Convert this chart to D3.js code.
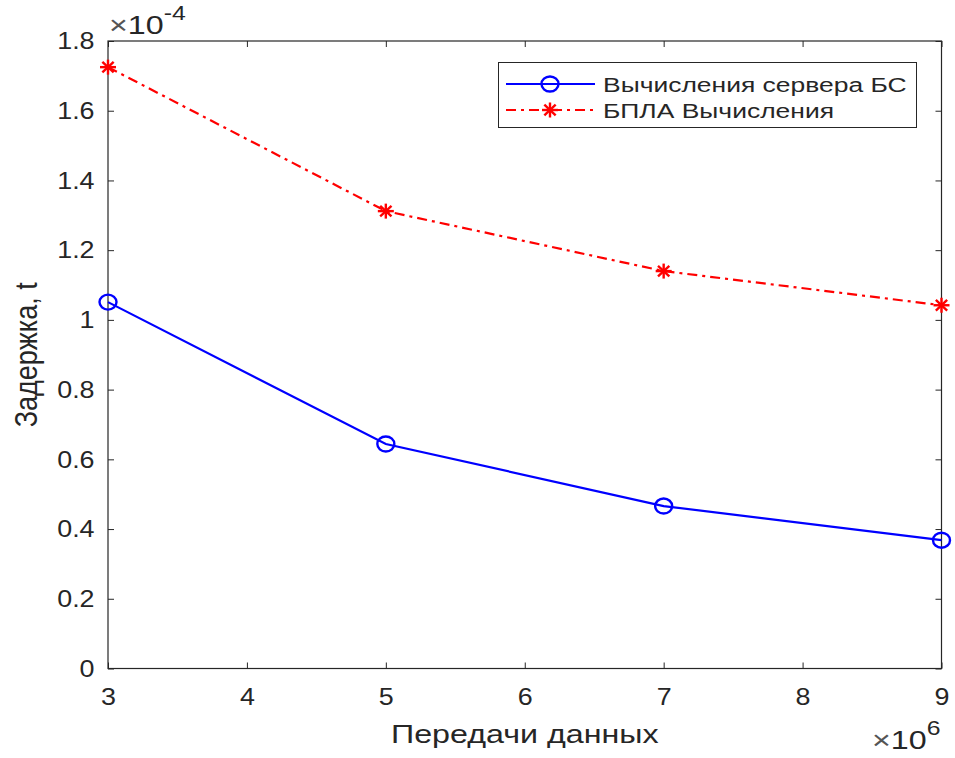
<!DOCTYPE html>
<html>
<head>
<meta charset="utf-8">
<script src="https://cdn.jsdelivr.net/npm/d3@7"></script>
<style>
body { margin: 0; background: #fff; }
text { font-family: "Liberation Sans", Arial, sans-serif; fill: #262626; }
</style>
</head>
<body>
<svg id="chart"></svg>
<script>
const width = 955;
const height = 758;
const margin = {left: 108, right: 13, top: 41, bottom: 90};

// data, x in units of 1e6, y in units of 1e-4
const xVals = [3, 5, 7, 9];
const serverDelay = [1.051, 0.644, 0.466, 0.368];
const uavDelay = [1.725, 1.312, 1.140, 1.042];
const xTicks = [3, 4, 5, 6, 7, 8, 9];
const yTicks = [0, 0.2, 0.4, 0.6, 0.8, 1, 1.2, 1.4, 1.6, 1.8];
const seriesNames = ['Вычисления сервера БС', 'БПЛА Вычисления'];

// the reference picture is a bit wider than tall, so text gets stretched sideways
const stretch = 1.24;

const svg = d3.select('#chart').attr('width', width).attr('height', height);

const x = d3.scaleLinear().domain([3, 9]).range([margin.left, width - margin.right - 0.5]);
const y = d3.scaleLinear().domain([0, 1.8]).range([height - margin.bottom + 0.5, margin.top]);

const axisColor = '#262626';
const fmt = d => d === 0 ? '0' : (Number.isInteger(d) ? d : d.toFixed(1));

// box
svg.append('rect')
    .attr('x', x(3)).attr('y', y(1.8))
    .attr('width', x(9) - x(3)).attr('height', y(0) - y(1.8))
    .attr('fill', 'none').attr('stroke', axisColor).attr('stroke-width', 1.2);

// axes with inward ticks
const xAxis = svg.append('g')
    .attr('transform', `translate(0,${y(0)})`)
    .call(d3.axisBottom(x).tickValues(xTicks).tickSize(-6).tickPadding(19).tickFormat(d3.format('d')));
const xAxisTop = svg.append('g')
    .attr('transform', `translate(0,${y(1.8)})`)
    .call(d3.axisTop(x).tickValues(xTicks).tickSize(-6).tickFormat(''));
const yAxis = svg.append('g')
    .attr('transform', `translate(${x(3)},0)`)
    .call(d3.axisLeft(y).tickValues(yTicks).tickSize(-6).tickPadding(12).tickFormat(fmt));
const yAxisRight = svg.append('g')
    .attr('transform', `translate(${x(9)},0)`)
    .call(d3.axisRight(y).tickValues(yTicks).tickSize(-6).tickFormat(''));

[xAxis, xAxisTop, yAxis, yAxisRight].forEach(g => {
    g.select('.domain').remove();
    g.selectAll('line').attr('stroke', axisColor);
    g.selectAll('text')
        .style('font-size', '24px')
        .attr('fill', axisColor)
        .attr('transform', 'scale(1.12,1)');
});

// axis labels
svg.append('text')
    .attr('transform', `translate(${(x(3) + x(9)) / 2},743) scale(${stretch},1)`)
    .attr('text-anchor', 'middle')
    .style('font-size', '26px')
    .text('Передачи данных');

svg.append('text')
    .attr('transform', `translate(37,${(y(0) + y(1.8)) / 2}) scale(1.15,1) rotate(-90)`)
    .attr('text-anchor', 'middle')
    .style('font-size', '27px')
    .text('Задержка, t');

// exponent labels
const expTop = svg.append('text')
    .attr('transform', `translate(109,34) scale(${stretch},1)`)
    .style('font-size', '26px');
expTop.append('tspan').attr('fill', '#555').text('×');
expTop.append('tspan').text('10');
expTop.append('tspan').attr('dy', -14).style('font-size', '20px').text('-4');

const expBot = svg.append('text')
    .attr('transform', `translate(872,749) scale(${stretch},1)`)
    .style('font-size', '26px');
expBot.append('tspan').attr('fill', '#555').text('×');
expBot.append('tspan').text('10');
expBot.append('tspan').attr('dy', -14).style('font-size', '20px').text('6');

// lines
const line = d3.line().x((d, i) => x(xVals[i])).y(d => y(d));
const dashDot = '10,5,3,5';

svg.append('path')
    .datum(uavDelay)
    .attr('d', line)
    .attr('fill', 'none')
    .attr('stroke', '#ff0000')
    .attr('stroke-width', 2.2)
    .attr('stroke-dasharray', dashDot);

svg.append('path')
    .datum(serverDelay)
    .attr('d', line)
    .attr('fill', 'none')
    .attr('stroke', '#0000ff')
    .attr('stroke-width', 2.2);

function star(g, cx, cy, color) {
    const rx = 8, ry = 7.5;
    for (let k = 0; k < 4; k++) {
        const a = k * Math.PI / 4;
        g.append('line')
            .attr('x1', cx - rx * Math.cos(a)).attr('y1', cy - ry * Math.sin(a))
            .attr('x2', cx + rx * Math.cos(a)).attr('y2', cy + ry * Math.sin(a))
            .attr('stroke', color).attr('stroke-width', 2.4);
    }
}

const markers = svg.append('g');
markers.selectAll('ellipse')
    .data(serverDelay)
    .enter().append('ellipse')
        .attr('cx', (d, i) => x(xVals[i]))
        .attr('cy', d => y(d))
        .attr('rx', 8.5)
        .attr('ry', 7.5)
        .attr('fill', 'none')
        .attr('stroke', '#0000ff')
        .attr('stroke-width', 2.4);

uavDelay.forEach((d, i) => star(markers, x(xVals[i]), y(d), '#ff0000'));

// legend
const legend = svg.append('g');
legend.append('rect')
    .attr('x', 498.5).attr('y', 62.5).attr('width', 418).attr('height', 65)
    .attr('fill', '#fff').attr('stroke', axisColor).attr('stroke-width', 1);

const ly = [84, 110];
legend.append('line')
    .attr('x1', 506).attr('x2', 595).attr('y1', ly[0]).attr('y2', ly[0])
    .attr('stroke', '#0000ff').attr('stroke-width', 2.2);
legend.append('ellipse')
    .attr('cx', 550).attr('cy', ly[0]).attr('rx', 8.5).attr('ry', 7.5)
    .attr('fill', 'none').attr('stroke', '#0000ff').attr('stroke-width', 2.4);
legend.append('line')
    .attr('x1', 506).attr('x2', 595).attr('y1', ly[1]).attr('y2', ly[1])
    .attr('stroke', '#ff0000').attr('stroke-width', 2.2)
    .attr('stroke-dasharray', dashDot);
star(legend, 550, ly[1], '#ff0000');

legend.selectAll('.legend_text')
    .data(seriesNames)
    .enter().append('text')
        .attr('class', 'legend_text')
        .attr('transform', (d, i) => `translate(603,${ly[i] + 8}) scale(1.26,1)`)
        .style('font-size', '21px')
        .text(d => d);
</script>
</body>
</html>
